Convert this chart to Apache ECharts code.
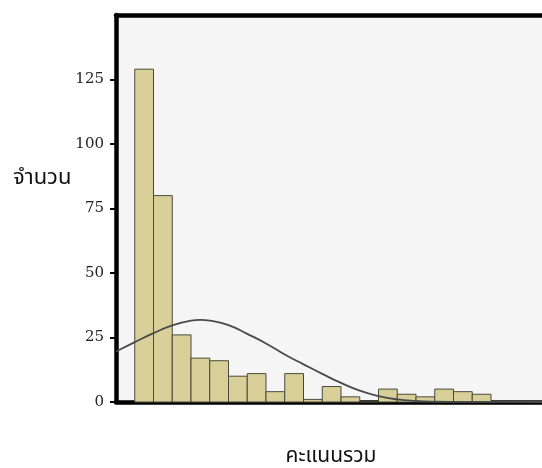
<!DOCTYPE html>
<html>
<head>
<meta charset="utf-8">
<script src="https://cdn.jsdelivr.net/npm/echarts@6/dist/echarts.min.js"></script>
<style>
  html, body { margin: 0; padding: 0; background: #fff; }
  #chart { width: 542px; height: 468px; }
</style>
</head>
<body>
<div id="chart"></div>
<script>
// histogram bins (bin index, width 1) and counts
var binStart = [0, 1, 2, 3, 4, 5, 6, 7, 8, 9, 10, 11, 12, 13, 14, 15, 16, 17, 18];
var counts = [129, 80, 26, 17, 16, 10, 11, 4, 11, 1, 6, 2, 0, 5, 3, 2, 5, 4, 3];

// fitted curve
var curveX = [-1, 0, 1, 2, 3, 3.5, 4, 5, 6, 7, 8, 9, 10, 11, 12, 13, 14, 15, 16, 18, 23];
var curveY = [19.6, 23.2, 26.7, 29.7, 31.5, 31.8, 31.5, 29.8, 26.4, 22.7, 18.4, 14.6, 10.9, 7.4, 4.4, 2.3, 1.0, 0.4, 0.15, 0.02, 0];

var yTicks = [0, 25, 50, 75, 100, 125];

var yName = 'จำนวน';
var xName = 'คะแนนรวม';

var thaiFont = "'Noto Sans Thai', 'Noto Sans', 'DejaVu Sans', sans-serif";

var barData = binStart.map(function (b, i) { return [b, counts[i]]; });
var lineData = curveX.map(function (x, i) { return [x, curveY[i]]; });

var myChart = echarts.init(document.getElementById('chart'));

myChart.setOption({
  backgroundColor: '#fff',
  animation: false,
  grid: {
    left: 116,
    top: 15,
    bottom: 66,
    width: 450,
    outerBoundsMode: 'none',
    show: true,
    backgroundColor: '#f5f5f5',
    borderWidth: 0
  },
  xAxis: [
    {
      type: 'value',
      min: -1,
      max: 23,
      axisLine: { show: true, onZero: false, lineStyle: { color: '#000', width: 4.5 } },
      axisTick: { show: false },
      axisLabel: { show: false },
      splitLine: { show: false }
    },
    {
      // top frame line only
      type: 'value',
      position: 'top',
      min: -1,
      max: 23,
      axisLine: { show: true, onZero: false, lineStyle: { color: '#000', width: 4.5 } },
      axisTick: { show: false },
      axisLabel: { show: false },
      splitLine: { show: false }
    }
  ],
  yAxis: {
    type: 'value',
    min: 0,
    max: 150,
    interval: 25,
    axisLine: { show: true, onZero: false, lineStyle: { color: '#000', width: 4.5 } },
    axisTick: { show: true, length: 6, customValues: yTicks, lineStyle: { color: '#000', width: 2 } },
    axisLabel: {
      margin: 12,
      color: '#222',
      fontFamily: "'DejaVu Serif', 'Liberation Serif', serif",
      fontSize: 15,
      customValues: yTicks
    },
    splitLine: { show: false }
  },
  graphic: [
    {
      type: 'text',
      x: 13,
      y: 180,
      style: { text: yName, font: '22px ' + thaiFont, fill: '#111', verticalAlign: 'middle' }
    },
    {
      type: 'text',
      x: 331,
      y: 458,
      style: { text: xName, font: '21px ' + thaiFont, fill: '#111', align: 'center', verticalAlign: 'middle' }
    }
  ],
  series: [
    {
      type: 'custom',
      data: barData,
      renderItem: function (params, api) {
        var p0 = api.coord([api.value(0), api.value(1)]);
        var p1 = api.coord([api.value(0) + 1, 0]);
        return {
          type: 'rect',
          shape: { x: p0[0], y: p0[1], width: p1[0] - p0[0], height: p1[1] - p0[1] },
          style: { fill: '#d8d098', stroke: '#4a4a3c', lineWidth: 1 }
        };
      },
      z: 2
    },
    {
      type: 'line',
      data: lineData,
      smooth: true,
      symbol: 'none',
      lineStyle: { color: '#4a4a4a', width: 1.8 },
      z: 3
    }
  ]
});
</script>
</body>
</html>
